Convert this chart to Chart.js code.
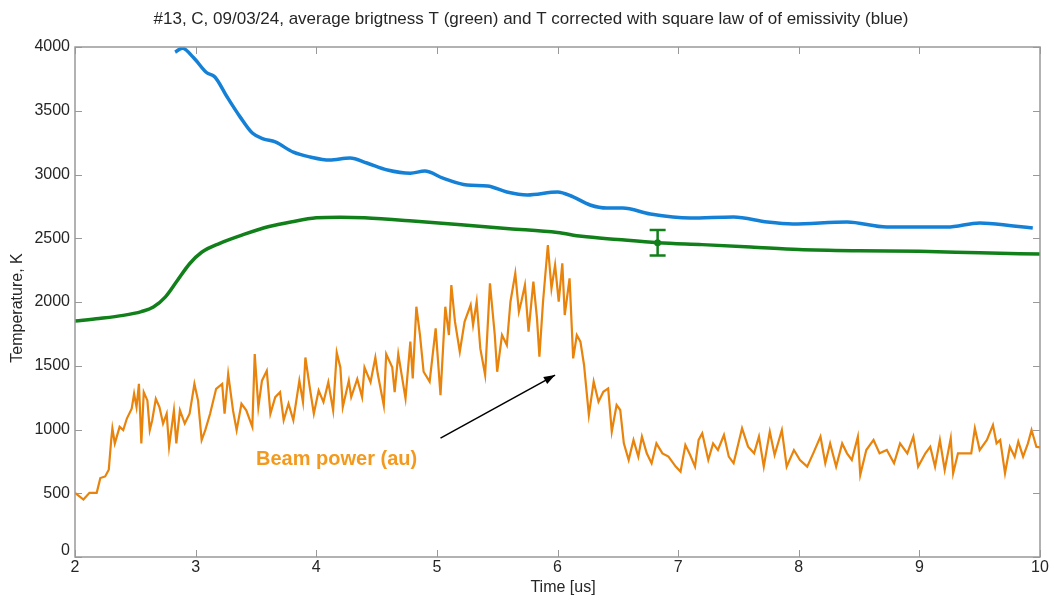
<!DOCTYPE html>
<html>
<head>
<meta charset="utf-8">
<script src="https://cdn.jsdelivr.net/npm/chart.js@4.4.1/dist/chart.umd.min.js"></script>
<style>
  html, body { margin: 0; padding: 0; background: #fff; }
  #wrap { width: 1055px; height: 600px; }
</style>
</head>
<body>
<div id="wrap"><canvas id="chart"></canvas></div>
<script>
// time axis ticks and temperature ticks
const xTicks = [2, 3, 4, 5, 6, 7, 8, 9, 10];
const yTicks = [0, 500, 1000, 1500, 2000, 2500, 3000, 3500, 4000];

// green: average brightness T
const greenT = [2.0, 2.2, 2.4, 2.55, 2.65, 2.75, 2.85, 2.95, 3.05, 3.2, 3.4, 3.6, 3.8, 4.0, 4.2, 4.4, 4.8, 5.2, 5.6, 6.0, 6.2, 6.5, 6.83, 7.2, 7.6, 8.0, 8.5, 9.0, 9.5, 10.0];
const greenY = [1850, 1870, 1895, 1925, 1960, 2040, 2170, 2300, 2390, 2460, 2530, 2590, 2630, 2660, 2665, 2660, 2635, 2605, 2575, 2545, 2515, 2490, 2465, 2450, 2432, 2412, 2402, 2398, 2386, 2376];

// blue: T corrected with square law of emissivity
const blueT = [2.83, 2.89, 2.98, 3.09, 3.16, 3.26, 3.37, 3.47, 3.56, 3.66, 3.81, 3.95, 4.11, 4.28, 4.42, 4.59, 4.78, 4.90, 5.05, 5.25, 5.42, 5.58, 5.75, 6.00, 6.13, 6.27, 6.41, 6.54, 6.77, 7.10, 7.46, 7.74, 7.95, 8.40, 8.73, 8.95, 9.23, 9.50, 9.78, 9.94];
const blueY = [3960, 3990, 3920, 3800, 3765, 3610, 3450, 3325, 3280, 3255, 3175, 3137, 3113, 3130, 3090, 3035, 3010, 3027, 2972, 2918, 2910, 2863, 2840, 2863, 2824, 2761, 2737, 2737, 2690, 2659, 2667, 2627, 2612, 2627, 2588, 2588, 2588, 2620, 2596, 2580];

// orange: beam power (au)
const beamT = [
    2.00, 2.07, 2.12, 2.18, 2.21, 2.25, 2.28, 2.30, 2.31, 2.33, 2.37, 2.40, 2.43, 2.47, 2.49, 2.51, 2.53, 2.55, 2.57, 2.60,
    2.62, 2.64, 2.67, 2.70, 2.73, 2.76, 2.78, 2.82, 2.84, 2.87, 2.91, 2.95, 2.99, 3.02, 3.05, 3.08, 3.12, 3.17, 3.22, 3.24,
    3.27, 3.31, 3.34, 3.38, 3.42, 3.47, 3.49, 3.52, 3.55, 3.59, 3.62, 3.66, 3.70, 3.73, 3.77, 3.81, 3.86, 3.89, 3.91, 3.95,
    3.98, 4.02, 4.06, 4.10, 4.14, 4.17, 4.20, 4.22, 4.27, 4.29, 4.34, 4.38, 4.40, 4.45, 4.49, 4.51, 4.56, 4.58, 4.63, 4.65,
    4.68, 4.74, 4.78, 4.80, 4.83, 4.86, 4.89, 4.94, 4.99, 5.03, 5.07, 5.10, 5.12, 5.15, 5.19, 5.23, 5.28, 5.30, 5.33, 5.36,
    5.40, 5.44, 5.48, 5.50, 5.54, 5.58, 5.61, 5.65, 5.68, 5.70, 5.73, 5.76, 5.80, 5.83, 5.85, 5.88, 5.92, 5.95, 5.98, 6.01,
    6.04, 6.06, 6.10, 6.13, 6.16, 6.19, 6.22, 6.26, 6.30, 6.34, 6.38, 6.42, 6.45, 6.49, 6.52, 6.55, 6.59, 6.63, 6.67, 6.70,
    6.74, 6.78, 6.82, 6.87, 6.92, 6.98, 7.02, 7.06, 7.10, 7.14, 7.17, 7.20, 7.25, 7.29, 7.33, 7.38, 7.42, 7.46, 7.53, 7.58,
    7.63, 7.67, 7.71, 7.76, 7.80, 7.86, 7.90, 7.96, 8.01, 8.07, 8.12, 8.18, 8.22, 8.26, 8.31, 8.36, 8.40, 8.44, 8.49, 8.51,
    8.56, 8.62, 8.67, 8.73, 8.79, 8.84, 8.90, 8.95, 8.99, 9.05, 9.09, 9.13, 9.17, 9.21, 9.26, 9.28, 9.32, 9.37, 9.43, 9.46,
    9.50, 9.56, 9.61, 9.64, 9.67, 9.71, 9.75, 9.79, 9.82, 9.86, 9.90, 9.93, 9.97, 10.0
];
const beamY = [
    503, 451, 503, 503, 619, 632, 684, 917, 1008, 891, 1021, 995, 1086, 1163, 1280, 1176, 1358, 891, 1293, 1228,
    995, 1073, 1241, 1176, 1047, 1124, 865, 1150, 891, 1150, 1047, 1124, 1358, 1228, 917, 995, 1124, 1319, 1358, 1124,
    1435, 1150, 995, 1202, 1150, 1021, 1591, 1176, 1383, 1461, 1124, 1254, 1293, 1073, 1202, 1073, 1383, 1215, 1565, 1306,
    1124, 1306, 1215, 1371, 1150, 1604, 1487, 1176, 1383, 1254, 1396, 1254, 1487, 1371, 1565, 1435, 1189, 1591, 1487, 1293,
    1591, 1244, 1689, 1401, 1963, 1741, 1453, 1375, 1793, 1270, 1963, 1741, 2133, 1846, 1610, 1846, 1976, 1820, 2002, 1636,
    1427, 2146, 1741, 1453, 1741, 1662, 2002, 2225, 1924, 2002, 2133, 1767, 2159, 1872, 1571, 2002, 2447, 2107, 2290, 2002,
    2303, 1898, 2186, 1558, 1741, 1689, 1506, 1113, 1375, 1218, 1296, 1322, 983, 1192, 1153, 891, 761, 918, 787, 944,
    813, 735, 891, 813, 787, 709, 670, 878, 800, 709, 918, 970, 761, 891, 839, 957, 787, 735, 1009, 865,
    813, 944, 709, 983, 800, 996, 709, 839, 761, 709, 813, 944, 735, 891, 709, 891, 813, 761, 944, 644,
    839, 918, 813, 839, 735, 891, 813, 944, 709, 813, 865, 709, 918, 683, 931, 657, 813, 813, 813, 1009,
    839, 918, 1035, 891, 918, 657, 865, 787, 905, 787, 891, 996, 865, 860
];

// error bar on the green curve
const errT = 6.83;
const errY = 2465;
const errHalf = 100;

// arrow of the annotation, in data units
const arrowFrom = [5.03, 933];
const arrowTo = [5.98, 1427];

const titleText = '#13, C, 09/03/24, average brigtness T (green) and T corrected with square law of of emissivity (blue)';

const orange = '#e8830c';
const green = '#12801a';
const blue = '#1581d6';
const axisGrey = '#999999';
const font = '"Liberation Sans", Arial, sans-serif';

function pairs(xs, ys) {
    return xs.map((x, i) => ({ x: x, y: ys[i] }));
}

// box, inward ticks, labels, error bar and annotation, matlab style
const decor = {
    id: 'decor',
    afterDatasetsDraw(chart) {
        const ctx = chart.ctx;
        const a = chart.chartArea;
        const xs = chart.scales.x;
        const ys = chart.scales.y;
        ctx.save();

        // error bar
        const ex = xs.getPixelForValue(errT);
        const eTop = ys.getPixelForValue(errY + errHalf);
        const eBot = ys.getPixelForValue(errY - errHalf);
        ctx.strokeStyle = green;
        ctx.lineWidth = 2.5;
        ctx.beginPath();
        ctx.moveTo(ex, eTop); ctx.lineTo(ex, eBot);
        ctx.moveTo(ex - 8, eTop); ctx.lineTo(ex + 8, eTop);
        ctx.moveTo(ex - 8, eBot); ctx.lineTo(ex + 8, eBot);
        ctx.stroke();
        ctx.fillStyle = green;
        ctx.beginPath();
        ctx.arc(ex, ys.getPixelForValue(errY), 3.5, 0, Math.PI * 2);
        ctx.fill();

        // frame
        ctx.strokeStyle = axisGrey;
        ctx.lineWidth = 1.5;
        ctx.strokeRect(a.left, a.top, a.right - a.left, a.bottom - a.top);
        ctx.lineWidth = 1;
        ctx.beginPath();
        xTicks.forEach(v => {
            const p = Math.round(xs.getPixelForValue(v)) + 0.5;
            ctx.moveTo(p, a.bottom); ctx.lineTo(p, a.bottom - 7);
            ctx.moveTo(p, a.top); ctx.lineTo(p, a.top + 7);
        });
        yTicks.forEach(v => {
            const p = Math.round(ys.getPixelForValue(v)) + 0.5;
            ctx.moveTo(a.left, p); ctx.lineTo(a.left + 7, p);
            ctx.moveTo(a.right, p); ctx.lineTo(a.right - 7, p);
        });
        ctx.stroke();

        // tick labels
        ctx.fillStyle = '#262626';
        ctx.font = '16px ' + font;
        ctx.textAlign = 'center';
        ctx.textBaseline = 'top';
        xTicks.forEach(v => ctx.fillText(String(v), xs.getPixelForValue(v), a.bottom + 3));
        ctx.textAlign = 'right';
        ctx.textBaseline = 'middle';
        yTicks.forEach(v => ctx.fillText(String(v), a.left - 5, ys.getPixelForValue(v) - (v === 0 ? 6 : 0)));

        // axis titles
        ctx.font = '16px ' + font;
        ctx.textAlign = 'center';
        ctx.textBaseline = 'middle';
        ctx.fillText('Time [us]', 563, 588);
        ctx.save();
        ctx.translate(18, 308);
        ctx.rotate(-Math.PI / 2);
        ctx.fillText('Temperature, K', 0, 0);
        ctx.restore();

        // title
        ctx.font = '17px ' + font;
        ctx.fillText(titleText, 531, 19);

        // annotation
        ctx.fillStyle = '#f39a1e';
        ctx.font = 'bold 20px ' + font;
        ctx.textAlign = 'left';
        ctx.fillText('Beam power (au)', 256, 459);

        const x0 = xs.getPixelForValue(arrowFrom[0]), y0 = ys.getPixelForValue(arrowFrom[1]);
        const x1 = xs.getPixelForValue(arrowTo[0]), y1 = ys.getPixelForValue(arrowTo[1]);
        ctx.strokeStyle = '#000';
        ctx.fillStyle = '#000';
        ctx.lineWidth = 1.5;
        ctx.beginPath();
        ctx.moveTo(x0, y0); ctx.lineTo(x1, y1);
        ctx.stroke();
        const ang = Math.atan2(y1 - y0, x1 - x0);
        ctx.beginPath();
        ctx.moveTo(x1, y1);
        ctx.lineTo(x1 - 12 * Math.cos(ang - 0.35), y1 - 12 * Math.sin(ang - 0.35));
        ctx.lineTo(x1 - 12 * Math.cos(ang + 0.35), y1 - 12 * Math.sin(ang + 0.35));
        ctx.closePath();
        ctx.fill();

        ctx.restore();
    }
};

new Chart(document.getElementById('chart'), {
    type: 'line',
    data: {
        datasets: [
            { data: pairs(beamT, beamY), borderColor: orange, borderWidth: 2.2, pointRadius: 0, tension: 0 },
            { data: pairs(greenT, greenY), borderColor: green, borderWidth: 3.5, pointRadius: 0, cubicInterpolationMode: 'monotone' },
            { data: pairs(blueT, blueY), borderColor: blue, borderWidth: 3.5, pointRadius: 0, cubicInterpolationMode: 'monotone' }
        ]
    },
    options: {
        responsive: true,
        maintainAspectRatio: false,
        animation: false,
        layout: { padding: { left: 0, right: 15, top: 47, bottom: 0 } },
        plugins: { legend: { display: false }, tooltip: { enabled: false }, title: { display: false } },
        scales: {
            x: {
                type: 'linear', min: 2, max: 10,
                grid: { display: false }, border: { display: false },
                ticks: { display: false },
                afterFit: (s) => { s.height = 43; }
            },
            y: {
                min: 0, max: 4000,
                grid: { display: false }, border: { display: false },
                ticks: { display: false },
                afterFit: (s) => { s.width = 75; }
            }
        }
    },
    plugins: [decor]
});
</script>
</body>
</html>
